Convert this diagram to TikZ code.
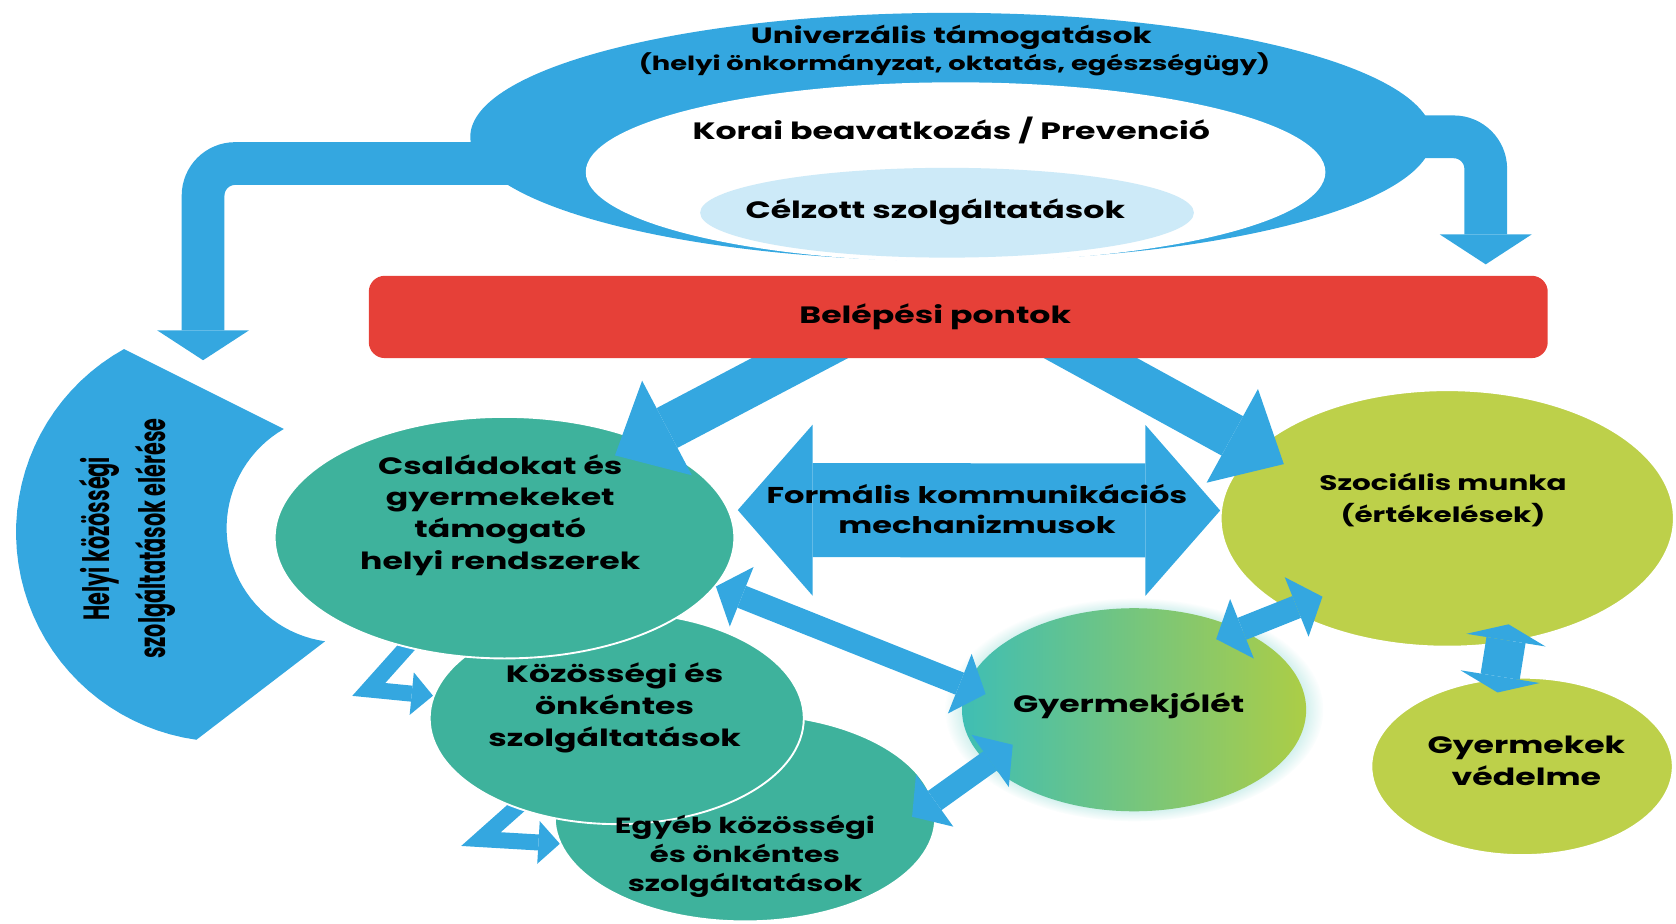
\documentclass[tikz,border=0pt]{standalone}
\usepackage{fontspec}
\setmainfont{Poppins}[FakeStretch=1.4]
\newfontfamily\narrowfont{Poppins}[FakeStretch=0.57]
\usetikzlibrary{arrows.meta,shapes.geometric,shadows,calc}

\definecolor{ringblue}{HTML}{34A7E0}
\definecolor{boxred}{HTML}{E64038}
\definecolor{paleblue}{HTML}{CDEAF8}
\definecolor{tealgreen}{HTML}{3EB29C}
\definecolor{limegreen}{HTML}{BDD04A}
\definecolor{glowteal}{HTML}{3FBEB4}
\definecolor{glowlime}{HTML}{ACCD46}

\pgfdeclarelayer{back}
\pgfdeclarelayer{front}
\pgfsetlayers{back,main,front}

\begin{document}
\begin{tikzpicture}[x=0.1mm,y=-0.1mm,
    txt/.style={font=\bfseries\fontsize{6.3}{8.5}\selectfont,align=center,inner sep=0pt,text=black},
    bubble/.style={ellipse,draw=white,line width=0.5pt,inner sep=0pt},
    bigarrow/.style={draw=ringblue,line width=4.2mm,-{Triangle[length=5.5mm,width=10mm,line width=0pt]}},
    bentarrow/.style={draw=ringblue,line width=4mm,rounded corners=3mm,-{Triangle[length=2.8mm,width=8.6mm,line width=0pt]}},
    formarrow/.style={draw=ringblue,line width=8.8mm,{Triangle[length=7mm,width=16mm,line width=0pt]}-{Triangle[length=7mm,width=16mm,line width=0pt]}},
    linkarrow/.style={draw=ringblue,line width=2.2mm,{Triangle[length=2.6mm,width=6mm,line width=0pt]}-{Triangle[length=2.6mm,width=6mm,line width=0pt]}},
    protarrow/.style={draw=ringblue,line width=3.7mm,{Triangle[length=1.5mm,width=7.5mm,line width=0pt]}-{Triangle[length=1.5mm,width=7.5mm,line width=0pt]}},
    smallbent/.style={draw=ringblue,line width=1.5mm,-{Triangle[length=2mm,width=4mm,line width=0pt]}}]

  \useasboundingbox (0,0) rectangle (1568,864);

  \fill[ringblue] plot[domain=241:98,samples=40] ({211+196*cos(\x)},{498+196*sin(\x)})
    -- plot[domain=98:240,samples=40] ({319+107*cos(\x)},{494+107*sin(\x)}) -- cycle;
  \node[txt,rotate=90,font=\narrowfont\bfseries\fontsize{9.7}{14.8}\selectfont] (helyi) at (119,504)
    {Helyi közösségi\\szolgáltatások elérése};
  \coordinate (helyitop) at (190,337);

  \node[ellipse,fill=ringblue,inner sep=0pt,minimum width=90mm,minimum height=23.2mm] (univ) at (890,128) {};
  \node[ellipse,fill=white,inner sep=0pt,minimum width=69.2mm,minimum height=16.8mm] (korai) at (894,161) {};
  \node[ellipse,fill=paleblue,inner sep=0pt,minimum width=46.2mm,minimum height=8.4mm] (celz) at (886,199) {};
  \node[txt,font=\bfseries\fontsize{5.9}{8}\selectfont] (univtxt) at (890,35) {Univerzális támogatások};
  \node[txt,font=\bfseries\fontsize{5.2}{7}\selectfont] (univsub) at (893,60) {(helyi önkormányzat, oktatás, egészségügy)};
  \node[txt] (koraitxt) at (890,122) {Korai beavatkozás / Prevenció};
  \node[txt] (celztxt) at (875,198) {Célzott szolgáltatások};

  \begin{pgfonlayer}{front}
    \node[rectangle,rounded corners=1.5mm,fill=boxred,inner sep=0pt,minimum width=110.3mm,minimum height=7.7mm] (belep) at (896.5,296.5) {};
    \node[txt] (beleptxt) at (875,296) {Belépési pontok};
  \end{pgfonlayer}

  \node[bubble,fill=tealgreen,minimum width=35.6mm,minimum height=19.4mm] (egyeb) at (697,765) {};
  \node[bubble,fill=tealgreen,minimum width=35mm,minimum height=19.8mm] (koz) at (577,672) {};
  \node[bubble,fill=tealgreen,minimum width=43mm,minimum height=22.6mm] (csal) at (472,503) {};
  \node[bubble,draw=none,left color=glowteal,middle color=glowteal!70!glowlime,right color=glowlime,
        circular glow={fill=glowteal,opacity=0.35,shadow scale=1.1},
        minimum width=32.2mm,minimum height=19mm] (gyj) at (1061,664) {};
  \node[bubble,fill=limegreen,minimum width=42.4mm,minimum height=24mm] (szoc) at (1354,485) {};
  \node[bubble,fill=limegreen,minimum width=28.2mm,minimum height=16.6mm] (vedel) at (1424,717) {};

  \node[txt] (csaltxt) at (468,482) {Családokat és\\gyermekeket\\támogató\\helyi rendszerek};
  \node[txt] (koztxt) at (575,662) {Közösségi és\\önkéntes\\szolgáltatások};
  \node[txt,font=\bfseries\fontsize{5.85}{7.7}\selectfont] (egyebtxt) at (697,801) {Egyéb közösségi\\és önkéntes\\szolgáltatások};
  \node[txt] (gyjtxt) at (1056,660) {Gyermekjólét};
  \node[txt,font=\bfseries\fontsize{5.6}{8.5}\selectfont] (szoctxt) at (1350,468) {Szociális munka\\(értékelések)};
  \node[txt] (vedeltxt) at (1428,712) {Gyermekek\\védelme};

  \draw[bigarrow,shorten >=-3mm] ([xshift=-11.15mm,yshift=2mm]belep.south) -- (csal.35);
  \draw[bigarrow,shorten >=-3mm] ([xshift=8.85mm,yshift=2mm]belep.south) -- (szoc.160);
  \draw[formarrow,shorten <=0.8mm] (csal.7) -- (szoc.178);
  \node[txt,font=\bfseries\fontsize{6.1}{8}\selectfont] (formtxt) at (914,476) {Formális kommunikációs\\mechanizmusok};

  \draw[linkarrow,shorten >=-2mm] (csal.-13.5) -- (gyj.172);
  \draw[linkarrow,shorten <=-2.5mm,shorten >=-3mm] (egyeb.5) -- (gyj.200);
  \draw[linkarrow,shorten <=-2.5mm,shorten >=-3.5mm] (gyj.37.5) -- (szoc.210);
  \draw[protarrow,shorten <=-1.8mm,shorten >=-1.4mm] (szoc.-65) -- (vedel.104);

  \begin{pgfonlayer}{back}
    \draw[bentarrow] ([yshift=-2.5mm]univ.center) -| (helyitop);
    \draw[bentarrow] (univ.center) -| ([xshift=49.35mm,yshift=1mm]belep.north);
    \draw[smallbent] (csal.center) -- ++(-127,142) -- (koz.173);
    \draw[smallbent] (koz.center) -- ++(-127,113) -- (egyeb.-172);
  \end{pgfonlayer}
\end{tikzpicture}
\end{document}
